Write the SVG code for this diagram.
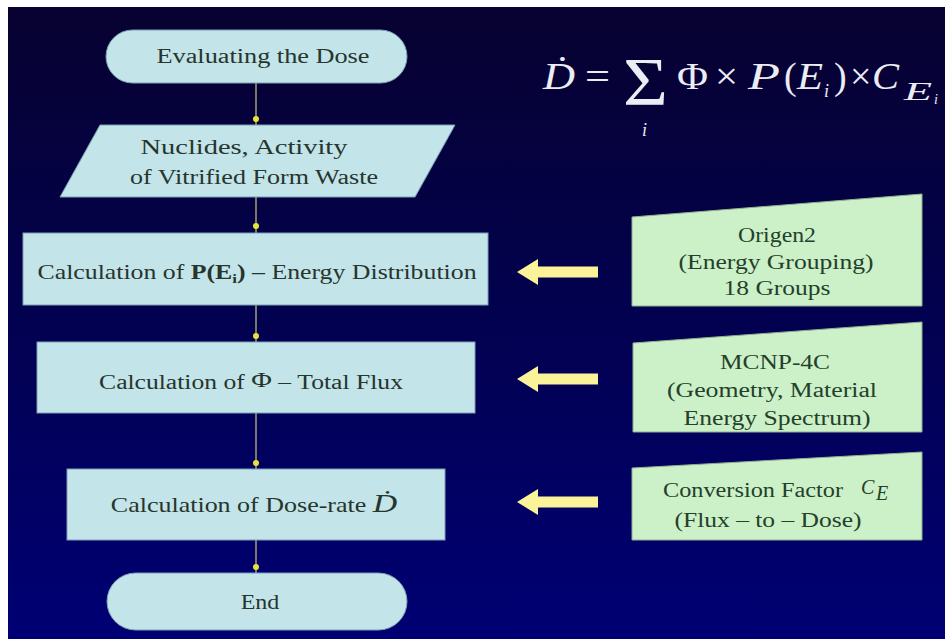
<svg xmlns="http://www.w3.org/2000/svg" width="945" height="639" viewBox="0 0 945 639">
<defs>
<linearGradient id="bg" x1="0" y1="0" x2="0" y2="1">
<stop offset="0" stop-color="#070230"/>
<stop offset="0.5" stop-color="#020150"/>
<stop offset="1" stop-color="#000074"/>
</linearGradient>
<path id="arrow" d="M0,0 L21,-13 L21,-5.5 L81,-5.5 L81,5.5 L21,5.5 L21,13 Z"/>
<style>
.t{font-family:"Liberation Serif","Times New Roman",serif;font-size:20px;fill:#26352e;text-anchor:middle}
.g{font-family:"Liberation Serif","Times New Roman",serif;font-size:20px;fill:#24402a;text-anchor:middle}
.f{font-family:"Liberation Serif","Times New Roman",serif;fill:#ececf4}
.fi{font-style:italic}
.blue{fill:#c3e4e8;stroke:#7d9fb5;stroke-width:1}
.green{fill:#ccf0c8;stroke:#8fb08f;stroke-width:1}
.conn{stroke:#9a9868;stroke-width:1.6;fill:none}
.dot{fill:#e8e23a}
.arr{fill:#fbf39a}
</style>
</defs>
<rect x="0" y="0" width="945" height="639" fill="#ffffff"/>
<rect x="8" y="7" width="937" height="632" fill="url(#bg)"/>

<g id="formula">
<text class="f fi" x="543" y="89" font-size="38" textLength="32" lengthAdjust="spacingAndGlyphs">Ḋ</text>
<text class="f" x="585" y="89" font-size="38" textLength="25" lengthAdjust="spacingAndGlyphs">=</text>
<text class="f" x="623" y="104" font-size="68" textLength="45" lengthAdjust="spacingAndGlyphs">Σ</text>
<text class="f fi" x="642" y="136" font-size="18">i</text>
<text class="f" x="677" y="89" font-size="38" textLength="31" lengthAdjust="spacingAndGlyphs">Φ</text>
<text class="f" x="715" y="89" font-size="38" textLength="23" lengthAdjust="spacingAndGlyphs">×</text>
<text class="f fi" x="748" y="89" font-size="38" textLength="32" lengthAdjust="spacingAndGlyphs">P</text>
<text class="f" x="784" y="89" font-size="38">(</text>
<text class="f fi" x="797" y="89" font-size="38" textLength="26" lengthAdjust="spacingAndGlyphs">E</text>
<text class="f fi" x="824" y="97" font-size="18">i</text>
<text class="f" x="834" y="89" font-size="38">)</text>
<text class="f" x="850" y="89" font-size="38">×</text>
<text class="f fi" x="872" y="89" font-size="38" textLength="27" lengthAdjust="spacingAndGlyphs">C</text>
<text class="f fi" x="904" y="100" font-size="26" textLength="28" lengthAdjust="spacingAndGlyphs">E</text>
<text class="f fi" x="934" y="104" font-size="14">i</text>
</g>

<g id="connectors">
<line class="conn" x1="256" y1="83" x2="256" y2="125"/>
<line class="conn" x1="256" y1="197" x2="256" y2="233"/>
<line class="conn" x1="256" y1="305" x2="256" y2="342"/>
<line class="conn" x1="256" y1="413" x2="256" y2="469"/>
<line class="conn" x1="256" y1="540" x2="256" y2="573"/>
<circle class="dot" cx="256" cy="119" r="3"/>
<circle class="dot" cx="256" cy="226" r="3"/>
<circle class="dot" cx="256" cy="336" r="3"/>
<circle class="dot" cx="256" cy="463" r="3"/>
<circle class="dot" cx="256" cy="567" r="3"/>
<use href="#arrow" class="arr" x="517" y="272"/>
<use href="#arrow" class="arr" x="517" y="379"/>
<use href="#arrow" class="arr" x="517" y="502"/>
</g>

<g id="start">
<rect class="blue" x="106" y="30" width="301" height="53" rx="26.5"/>
<text class="t" x="263" y="63" textLength="213" lengthAdjust="spacingAndGlyphs">Evaluating the Dose</text>
</g>

<g id="input">
<polygon class="blue" points="100,125 455,125 415,197 60,197"/>
<text class="t" x="244" y="154" textLength="207" lengthAdjust="spacingAndGlyphs">Nuclides, Activity</text>
<text class="t" x="254" y="184" textLength="248" lengthAdjust="spacingAndGlyphs">of Vitrified Form Waste</text>
</g>

<g id="energy">
<rect class="blue" x="23" y="233" width="465" height="72"/>
<text class="t" transform="translate(257,279) scale(1.29,1)" x="0" y="0">Calculation of <tspan font-weight="bold">P(E<tspan font-size="13" dy="4">i</tspan><tspan dy="-4">)</tspan></tspan> – Energy Distribution</text>
</g>

<g id="flux">
<rect class="blue" x="37" y="342" width="438" height="71"/>
<text class="t" transform="translate(251,389) scale(1.28,1)" x="0" y="0">Calculation of <tspan font-size="22" dy="-2">Φ</tspan><tspan dy="2"> – Total Flux</tspan></text>
</g>

<g id="doserate">
<rect class="blue" x="67" y="469" width="378" height="71"/>
<text class="t" transform="translate(254,512) scale(1.3,1)" x="0" y="0">Calculation of Dose-rate <tspan font-style="italic" font-size="26">Ḋ</tspan></text>
</g>

<g id="end">
<rect class="blue" x="107" y="573" width="300" height="57" rx="28.5"/>
<text class="t" transform="translate(260,609) scale(1.2,1)" x="0" y="0">End</text>
</g>

<g id="origen">
<polygon class="green" points="632,217 922,194 922,306 632,306"/>
<text class="g" x="777" y="242" textLength="78" lengthAdjust="spacingAndGlyphs">Origen2</text>
<text class="g" x="776" y="269" textLength="195" lengthAdjust="spacingAndGlyphs">(Energy Grouping)</text>
<text class="g" x="777" y="295" textLength="107" lengthAdjust="spacingAndGlyphs">18 Groups</text>
</g>

<g id="mcnp">
<polygon class="green" points="633,343 922,322 922,432 633,432"/>
<text class="g" x="775" y="369" textLength="110" lengthAdjust="spacingAndGlyphs">MCNP-4C</text>
<text class="g" x="772" y="397" textLength="210" lengthAdjust="spacingAndGlyphs">(Geometry, Material</text>
<text class="g" x="777" y="425" textLength="187" lengthAdjust="spacingAndGlyphs">Energy Spectrum)</text>
</g>

<g id="conversion">
<polygon class="green" points="632,468 922,452 922,540 632,540"/>
<text class="g" x="663" y="497" style="text-anchor:start" textLength="180" lengthAdjust="spacingAndGlyphs">Conversion Factor</text>
<text class="g" x="861" y="494" style="text-anchor:start;font-style:italic" font-size="21">C</text>
<text class="g" x="876" y="500" style="text-anchor:start;font-style:italic" font-size="12">E</text>
<text class="g" x="768" y="527" textLength="187" lengthAdjust="spacingAndGlyphs">(Flux – to – Dose)</text>
</g>
</svg>
